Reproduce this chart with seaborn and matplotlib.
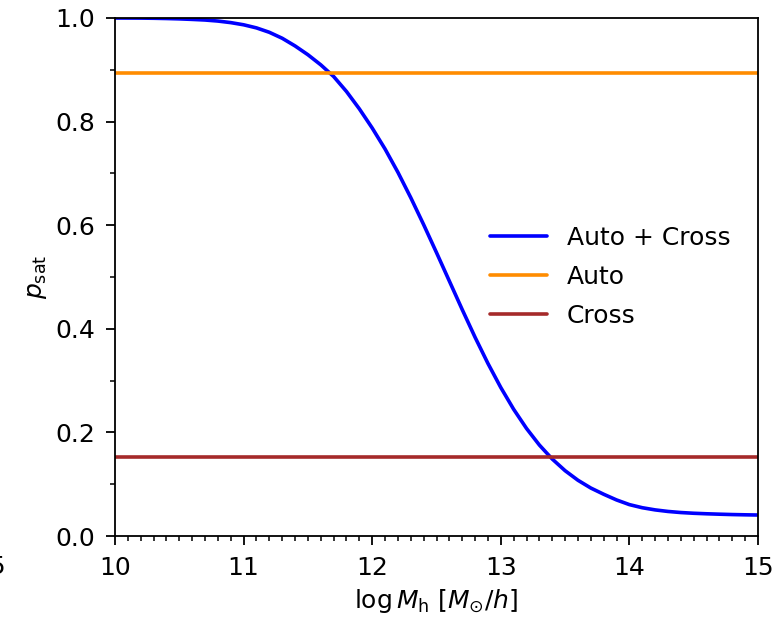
import numpy as np
import pandas as pd
import matplotlib
matplotlib.use("Agg")
import matplotlib.pyplot as plt
import seaborn as sns
from matplotlib.ticker import MultipleLocator, FormatStrFormatter

# ---- data ----
log_mh = [10.0, 10.1, 10.2, 10.3, 10.4, 10.5, 10.6, 10.7, 10.8, 10.9,
          11.0, 11.1, 11.2, 11.3, 11.4, 11.5, 11.6, 11.7, 11.8, 11.9,
          12.0, 12.1, 12.2, 12.3, 12.4, 12.5, 12.6, 12.7, 12.8, 12.9,
          13.0, 13.1, 13.2, 13.3, 13.4, 13.5, 13.6, 13.7, 13.8, 13.9,
          14.0, 14.1, 14.2, 14.3, 14.4, 14.5, 14.6, 14.7, 14.8, 14.9, 15.0]
p_auto_cross = [1.0000, 0.9999, 0.9998, 0.9995, 0.9990, 0.9983, 0.9973, 0.9961, 0.9941, 0.9911,
                0.9869, 0.9809, 0.9724, 0.9609, 0.9461, 0.9291, 0.9096, 0.8871, 0.8581, 0.8246,
                0.7876, 0.7471, 0.7021, 0.6531, 0.6011, 0.5471, 0.4921, 0.4371, 0.3836, 0.3331,
                0.2866, 0.2446, 0.2076, 0.1756, 0.1486, 0.1261, 0.1076, 0.0926, 0.0806, 0.0696,
                0.0606, 0.0546, 0.0504, 0.0474, 0.0453, 0.0439, 0.0429, 0.0421, 0.0414, 0.0409,
                0.0405]
p_auto = 0.893
p_cross = 0.152
labels = ["Auto + Cross", "Auto", "Cross"]
colors = ["#0000ff", "#ff8c00", "#a52a2a"]

sns.set_theme(style="ticks")
plt.rcParams.update({
    "font.family": ["DejaVu Sans"],
    "mathtext.fontset": "dejavusans",
    "font.size": 18,
    "axes.linewidth": 1.3,
    "xtick.direction": "out",
    "ytick.direction": "out",
    "xtick.major.size": 6.5,
    "ytick.major.size": 6.5,
    "xtick.minor.size": 3.6,
    "ytick.minor.size": 3.6,
    "xtick.major.width": 1.3,
    "ytick.major.width": 1.3,
    "xtick.minor.width": 1.1,
    "ytick.minor.width": 1.1,
    "xtick.major.pad": 8,
    "ytick.major.pad": 8,
    "xtick.color": "black",
    "ytick.color": "black",
    "axes.edgecolor": "black",
    "axes.labelcolor": "black",
    "text.color": "black",
})

fig = plt.figure(figsize=(7.82, 6.18), dpi=100)
ax = fig.add_axes([115 / 782, 1 - 536 / 618, (758 - 115) / 782, (536 - 18) / 618])

df = pd.DataFrame({"x": log_mh, "y": p_auto_cross})
sns.lineplot(data=df, x="x", y="y", ax=ax, color=colors[0], lw=2.6, label=labels[0])
ax.axhline(p_auto, color=colors[1], lw=2.6, label=labels[1])
ax.axhline(p_cross, color=colors[2], lw=2.6, label=labels[2])

ax.set_xlim(10, 15)
ax.set_ylim(0, 1)
ax.xaxis.set_major_locator(MultipleLocator(1))
ax.xaxis.set_minor_locator(MultipleLocator(0.1))
ax.yaxis.set_major_locator(MultipleLocator(0.2))
ax.yaxis.set_minor_locator(MultipleLocator(0.1))
ax.yaxis.set_major_formatter(FormatStrFormatter("%.1f"))
ax.tick_params(labelsize=18)

ax.set_xlabel(r"$\log M_{\rm h}$ [$M_{\odot}/h$]", fontsize=18, labelpad=5)
ax.set_ylabel(r"$p_{\rm sat}$", fontsize=18, labelpad=4)

leg = ax.legend(loc="center left", bbox_to_anchor=(0.5475, 0.5), frameon=False,
                fontsize=18, handlelength=2.3, handletextpad=0.8, labelspacing=0.6)

# clipped tick label of a neighbouring panel at the far left edge
fig.text(6 / 782, 1 - 567 / 618, "15", ha="right", va="center", fontsize=18)

fig.savefig("out.png", dpi=100)
